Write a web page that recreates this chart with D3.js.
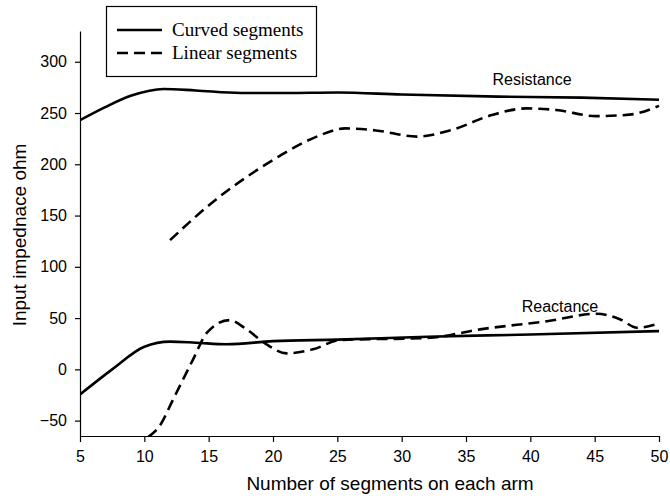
<!DOCTYPE html>
<html>
<head>
<meta charset="UTF-8">
<title>Input impedance vs segments</title>
<style>
    body { margin: 0; background: #fff; }
    svg text { fill: #000; }
</style>
</head>
<body>
<svg id="chart" width="670" height="499"></svg>
<script src="https://cdn.jsdelivr.net/npm/d3@7"></script>
<script>

// values
const resCurvedX = [5, 7, 9, 11.5, 14, 17.5, 21, 25, 30, 37.5, 44, 50];
const resCurvedY = [243, 256, 267, 273.5, 272, 269.5, 269.5, 270, 268, 266, 265, 263];

const resLinearX = [12, 15.6, 18, 20.5, 23.4, 25.6, 28, 31.2, 34, 37, 39.7, 42, 45.1, 47.7, 50];
const resLinearY = [126, 166, 188, 208, 227, 235, 233, 227, 234, 248, 254.5, 253, 247, 248.4, 257];

const reaCurvedX = [5, 7.5, 10, 12, 14, 16.4, 20, 25, 32, 40, 50];
const reaCurvedY = [-24.5, 0, 22, 27, 26, 24.5, 27.5, 29, 31.8, 34, 37.3];

const reaLinearX = [10.3, 11.2, 12.25, 13.8, 14.85, 16.6, 17.95, 19.5, 21.06, 23.1, 25.2, 32.2, 36.1, 41.3, 45.15, 47, 48.3, 50];
const reaLinearY = [-66, -55, -29, 10, 35.5, 48, 39, 24.3, 15.6, 19.5, 28.5, 30.8, 39, 47, 54.2, 48.7, 40.6, 44.8];

const xTicks = [5, 10, 15, 20, 25, 30, 35, 40, 45, 50];
const yTicks = [-50, 0, 50, 100, 150, 200, 250, 300];
const legendLabels = ["Curved segments", "Linear segments"];

const svg = d3.select("#chart");

const x = d3.scaleLinear().domain([5, 50]).range([80, 659]);
const y = d3.scaleLinear().domain([-65, 330]).range([436, 31]);

// clip so the linear reactance curve is cut at the x axis
svg.append("defs").append("clipPath").attr("id", "plot")
    .append("rect")
    .attr("x", 80).attr("y", 31)
    .attr("width", 582).attr("height", 405);

// axes
const xAxis = svg.append("g")
    .attr("transform", "translate(0,436)")
    .call(d3.axisBottom(x).tickValues(xTicks).tickSize(6).tickSizeOuter(0).tickPadding(9));
const yAxis = svg.append("g")
    .attr("transform", "translate(80,0)")
    .call(d3.axisLeft(y).tickValues(yTicks).tickSize(5).tickSizeOuter(0).tickPadding(8));

[xAxis, yAxis].forEach(a => {
    a.selectAll("path, line").attr("stroke", "#000").attr("stroke-width", 1.2);
    a.selectAll("text")
        .attr("font-family", "Liberation Sans, Arial, sans-serif")
        .attr("font-size", 16);
});

svg.append("text")
    .attr("x", 390).attr("y", 490)
    .attr("text-anchor", "middle")
    .attr("font-family", "Liberation Sans, Arial, sans-serif")
    .attr("font-size", 19)
    .text("Number of segments on each arm");

svg.append("text")
    .attr("transform", "translate(26,235) rotate(-90)")
    .attr("text-anchor", "middle")
    .attr("font-family", "Liberation Sans, Arial, sans-serif")
    .attr("font-size", 19)
    .text("Input impednace ohm");

// curves
const line = d3.line()
    .x(d => x(d[0]))
    .y(d => y(d[1]))
    .curve(d3.curveMonotoneX);

const series = [
    {xs: resCurvedX, ys: resCurvedY, dash: null},
    {xs: resLinearX, ys: resLinearY, dash: "11,6"},
    {xs: reaCurvedX, ys: reaCurvedY, dash: null},
    {xs: reaLinearX, ys: reaLinearY, dash: "11,6"}
];

const plot = svg.append("g").attr("clip-path", "url(#plot)");
plot.selectAll("path.series")
    .data(series)
    .enter().append("path")
    .attr("class", "series")
    .attr("d", s => line(d3.zip(s.xs, s.ys)))
    .attr("fill", "none")
    .attr("stroke", "#000")
    .attr("stroke-width", 2.6)
    .attr("stroke-dasharray", s => s.dash);

// curve labels
svg.append("text")
    .attr("x", 532).attr("y", 85)
    .attr("text-anchor", "middle")
    .attr("font-family", "Liberation Sans, Arial, sans-serif")
    .attr("font-size", 16)
    .text("Resistance");
svg.append("text")
    .attr("x", 560).attr("y", 312)
    .attr("text-anchor", "middle")
    .attr("font-family", "Liberation Sans, Arial, sans-serif")
    .attr("font-size", 16)
    .text("Reactance");

// legend
const legend = svg.append("g");
legend.append("rect")
    .attr("x", 106.5).attr("y", 6.5)
    .attr("width", 210).attr("height", 70)
    .attr("fill", "#fff")
    .attr("stroke", "#000")
    .attr("stroke-width", 1.2);

const items = legend.selectAll("g.item")
    .data(legendLabels)
    .enter().append("g")
    .attr("class", "item")
    .attr("transform", (d, i) => "translate(0," + (30 + i * 23) + ")");
items.append("line")
    .attr("x1", 117).attr("x2", 162)
    .attr("stroke", "#000")
    .attr("stroke-width", 2.6)
    .attr("stroke-dasharray", (d, i) => i === 1 ? "11,6" : null);
items.append("text")
    .attr("x", 172).attr("y", 6)
    .attr("font-family", "Liberation Serif, Times New Roman, serif")
    .attr("font-size", 19)
    .text(d => d);

</script>
</body>
</html>
